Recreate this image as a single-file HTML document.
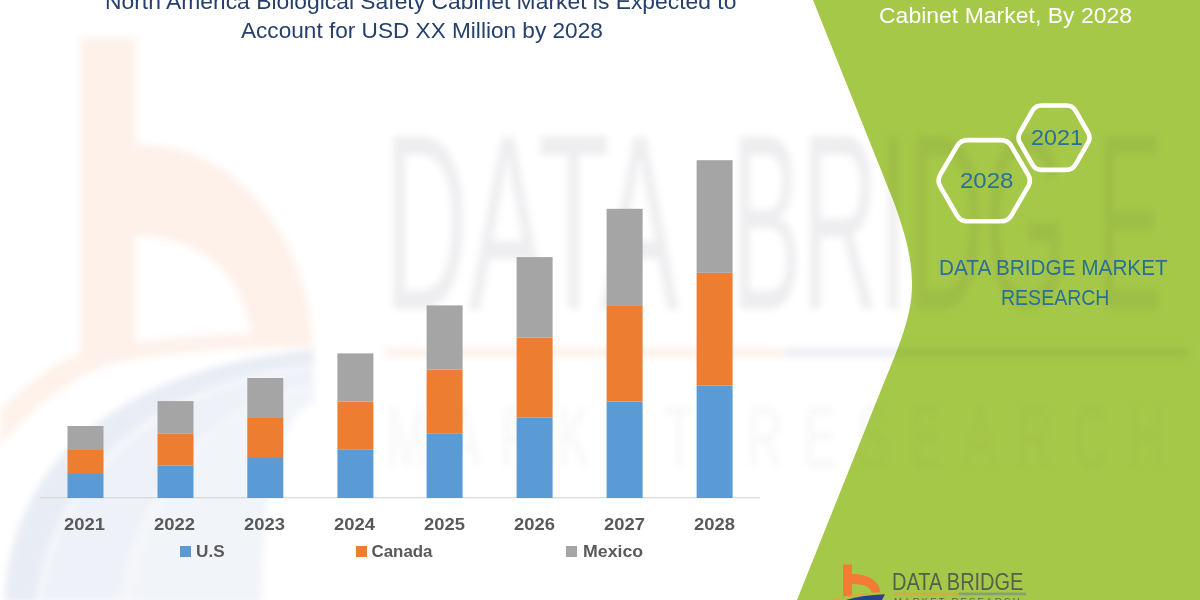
<!DOCTYPE html>
<html>
<head>
<meta charset="utf-8">
<style>
  html, body { margin:0; padding:0; }
  body { width:1200px; height:600px; overflow:hidden; background:#ffffff; position:relative;
         font-family:"Liberation Sans", sans-serif; }
  #stage { position:absolute; left:0; top:0; width:1200px; height:600px; overflow:hidden; background:#fff; }
  svg { position:absolute; left:0; top:0; }
  .t { position:absolute; white-space:nowrap; line-height:1; transform-origin:0 0; }
  .sq { position:absolute; width:11px; height:11px; top:545.8px; }
</style>
</head>
<body>
<div id="stage">

<!-- layer 1: green panel -->
<svg id="green" width="1200" height="600" viewBox="0 0 1200 600">
  <path d="M813 0 L893 200 C905 232 912 258 912 285 C912 320 895 355 877 400 L797 600 L1200 600 L1200 0 Z" fill="#a6c848"/>
</svg>

<!-- layer 2: faint blurred logo watermark (multiplied over white + green) -->
<svg id="wm" width="1200" height="600" viewBox="0 0 1200 600" style="mix-blend-mode:multiply">
  <defs>
    <filter id="b6" x="-10%" y="-10%" width="120%" height="120%"><feGaussianBlur stdDeviation="3.5"/></filter>
    <filter id="b4" x="-10%" y="-10%" width="120%" height="120%"><feGaussianBlur stdDeviation="3.5"/></filter>
    <clipPath id="cg"><path d="M813 0 L893 200 C905 232 912 258 912 285 C912 320 895 355 877 400 L797 600 L1200 600 L1200 0 Z"/></clipPath>
    <clipPath id="cw"><path d="M0 0 L813 0 L893 200 C905 232 912 258 912 285 C912 320 895 355 877 400 L797 600 L0 600 Z"/></clipPath>
    
  </defs>
  <g clip-path="url(#cw)">
  <g filter="url(#b6)">
    <!-- swoosh: blue-grey crescents -->
    <g transform="translate(-8,-8)"><path d="M13 610 C15 480 120 375 322 358 L322 410 C285 425 270 500 270 610 Z" fill="#f4f6fa"/>
    <path d="M13 610 C15 480 120 375 322 358 L322 372 C175 385 62 470 43 610 Z" fill="#e8ecf4"/>
    <path d="M50 610 C68 475 180 392 322 377 L322 392 C240 405 150 470 126 610 Z" fill="#eef2f8"/>
    <path d="M140 610 C160 480 240 412 322 397 L322 410 C285 425 270 500 270 610 Z" fill="#f1f4f9"/></g>
    <!-- orange bridge arc -->
    <path d="M0 410 C30 380 60 358 90 350 C150 336 230 333 312 333 L312 347 C240 348 170 352 120 362 C80 372 40 400 0 445 Z" fill="#fef2eb"/>
    <!-- b -->
    <path d="M80 38 H136 V144 C236 144 306 232 313 342 L252 342 C246 280 208 238 136 236 V356 H80 Z" fill="#fef1ea"/>
  </g>
  <g filter="url(#b4)">
    <text x="0" y="0" transform="translate(384,309) scale(0.5,1)" font-family="Liberation Sans, sans-serif" font-size="250" fill="#eeeef1" textLength="590" lengthAdjust="spacingAndGlyphs">DATA</text>
    <text x="0" y="0" transform="translate(731,309) scale(0.5,1)" font-family="Liberation Sans, sans-serif" font-size="250" fill="#eeeef1" textLength="672" lengthAdjust="spacingAndGlyphs">BRIDG</text>
    <text x="0" y="0" transform="translate(1096,309) scale(0.4,1)" font-family="Liberation Sans, sans-serif" font-size="250" fill="#eeeef1">E</text>
    <rect x="385" y="348" width="401" height="9" fill="#fef1ea"/>
    <rect x="786" y="348" width="404" height="9" fill="#ebeff6"/>
    <g transform="translate(386,467) scale(0.56,1)">
      <text x="0" y="0" font-family="Liberation Sans, sans-serif" font-size="88" fill="#f7f7f8" textLength="1390" lengthAdjust="spacing">MARKET RESEARCH</text>
    </g>
  </g>
</g>
  <g clip-path="url(#cg)" opacity="0.75">
  <g filter="url(#b6)">
    <!-- swoosh: blue-grey crescents -->
    <g transform="translate(-8,-8)"><path d="M13 610 C15 480 120 375 322 358 L322 410 C285 425 270 500 270 610 Z" fill="#f4f6fa"/>
    <path d="M13 610 C15 480 120 375 322 358 L322 372 C175 385 62 470 43 610 Z" fill="#e8ecf4"/>
    <path d="M50 610 C68 475 180 392 322 377 L322 392 C240 405 150 470 126 610 Z" fill="#eef2f8"/>
    <path d="M140 610 C160 480 240 412 322 397 L322 410 C285 425 270 500 270 610 Z" fill="#f1f4f9"/></g>
    <!-- orange bridge arc -->
    <path d="M0 410 C30 380 60 358 90 350 C150 336 230 333 312 333 L312 347 C240 348 170 352 120 362 C80 372 40 400 0 445 Z" fill="#fef2eb"/>
    <!-- b -->
    <path d="M80 38 H136 V144 C236 144 306 232 313 342 L252 342 C246 280 208 238 136 236 V356 H80 Z" fill="#fef1ea"/>
  </g>
  <g filter="url(#b4)">
    <text x="0" y="0" transform="translate(384,309) scale(0.5,1)" font-family="Liberation Sans, sans-serif" font-size="250" fill="#eeeef1" textLength="590" lengthAdjust="spacingAndGlyphs">DATA</text>
    <text x="0" y="0" transform="translate(731,309) scale(0.5,1)" font-family="Liberation Sans, sans-serif" font-size="250" fill="#eeeef1" textLength="672" lengthAdjust="spacingAndGlyphs">BRIDG</text>
    <text x="0" y="0" transform="translate(1096,309) scale(0.4,1)" font-family="Liberation Sans, sans-serif" font-size="250" fill="#eeeef1">E</text>
    <rect x="385" y="348" width="401" height="9" fill="#fef1ea"/>
    <rect x="786" y="348" width="404" height="9" fill="#ebeff6"/>
    <g transform="translate(386,467) scale(0.56,1)">
      <text x="0" y="0" font-family="Liberation Sans, sans-serif" font-size="88" fill="#f7f7f8" textLength="1390" lengthAdjust="spacing">MARKET RESEARCH</text>
    </g>
  </g>
</g>
</svg>

<!-- layer 3: chart -->
<svg id="chart" width="1200" height="600" viewBox="0 0 1200 600">
  <rect x="40" y="497.2" width="720" height="1.1" fill="#d4d4d4"/>
  <g>
    <rect x="67.5" y="474.0" width="36" height="24.0" fill="#5b9bd5"/>
    <rect x="67.5" y="450.0" width="36" height="24.0" fill="#ed7d31"/>
    <rect x="67.5" y="426.0" width="36" height="24.0" fill="#a5a5a5"/>
    <rect x="157.5" y="465.7" width="36" height="32.3" fill="#5b9bd5"/>
    <rect x="157.5" y="433.4" width="36" height="32.3" fill="#ed7d31"/>
    <rect x="157.5" y="401.1" width="36" height="32.3" fill="#a5a5a5"/>
    <rect x="247.3" y="458.0" width="36" height="40.0" fill="#5b9bd5"/>
    <rect x="247.3" y="418.0" width="36" height="40.0" fill="#ed7d31"/>
    <rect x="247.3" y="378.0" width="36" height="40.0" fill="#a5a5a5"/>
    <rect x="337.4" y="449.8" width="36" height="48.2" fill="#5b9bd5"/>
    <rect x="337.4" y="401.6" width="36" height="48.2" fill="#ed7d31"/>
    <rect x="337.4" y="353.4" width="36" height="48.2" fill="#a5a5a5"/>
    <rect x="426.6" y="433.8" width="36" height="64.2" fill="#5b9bd5"/>
    <rect x="426.6" y="369.6" width="36" height="64.2" fill="#ed7d31"/>
    <rect x="426.6" y="305.4" width="36" height="64.2" fill="#a5a5a5"/>
    <rect x="516.6" y="417.7" width="36" height="80.3" fill="#5b9bd5"/>
    <rect x="516.6" y="337.4" width="36" height="80.3" fill="#ed7d31"/>
    <rect x="516.6" y="257.1" width="36" height="80.3" fill="#a5a5a5"/>
    <rect x="606.6" y="401.6" width="36" height="96.4" fill="#5b9bd5"/>
    <rect x="606.6" y="305.2" width="36" height="96.4" fill="#ed7d31"/>
    <rect x="606.6" y="208.8" width="36" height="96.4" fill="#a5a5a5"/>
    <rect x="696.6" y="385.4" width="36" height="112.6" fill="#5b9bd5"/>
    <rect x="696.6" y="272.8" width="36" height="112.6" fill="#ed7d31"/>
    <rect x="696.6" y="160.2" width="36" height="112.6" fill="#a5a5a5"/>
  </g>
</svg>

<div class="t" id="t1" style="left:105.00px;top:-9.27px;font-size:21.23px;color:#26406d;font-weight:normal;transform:scaleX(1.0772)">North America Biological Safety Cabinet Market is Expected to</div>
<div class="t" id="t2" style="left:241.00px;top:20.03px;font-size:21.23px;color:#26406d;font-weight:normal;transform:scaleX(1.0651)">Account for USD XX Million by 2028</div>
<div class="t" id="cab" style="left:878.50px;top:4.60px;font-size:22.21px;color:#ffffff;font-weight:normal;transform:scaleX(1.0355)">Cabinet Market, By 2028</div>
<div class="t" id="h28" style="left:960.00px;top:170.04px;font-size:22.21px;color:#2a7096;font-weight:normal;transform:scaleX(1.0810)">2028</div>
<div class="t" id="h21" style="left:1031.00px;top:126.78px;font-size:22.07px;color:#2a7096;font-weight:normal;transform:scaleX(1.0569)">2021</div>
<div class="t" id="d1" style="left:938.50px;top:257.25px;font-size:22.60px;color:#2a7096;font-weight:normal;transform:scaleX(0.9187)">DATA BRIDGE MARKET</div>
<div class="t" id="d2" style="left:1001.00px;top:287.03px;font-size:22.60px;color:#2a7096;font-weight:normal;transform:scaleX(0.8640)">RESEARCH</div>
<div class="t" id="lus" style="left:195.50px;top:543.83px;font-size:16.90px;color:#595959;font-weight:bold;transform:scaleX(1.0159)">U.S</div>
<div class="t" id="lca" style="left:371.50px;top:543.83px;font-size:16.90px;color:#595959;font-weight:bold;transform:scaleX(1.0000)">Canada</div>
<div class="t" id="lme" style="left:582.50px;top:543.83px;font-size:16.90px;color:#595959;font-weight:bold;transform:scaleX(1.0501)">Mexico</div>
<div class="t" id="lg" style="left:892.00px;top:570.84px;font-size:23.74px;color:#55604a;font-weight:normal;transform:scaleX(0.8422)">DATA BRIDGE</div>
<div class="t" id="y0" style="left:64.00px;top:517.29px;font-size:16.90px;color:#595959;font-weight:bold;transform:scaleX(1.0894)">2021</div>
<div class="t" id="y1" style="left:154.00px;top:517.29px;font-size:16.90px;color:#595959;font-weight:bold;transform:scaleX(1.0894)">2022</div>
<div class="t" id="y2" style="left:244.00px;top:517.29px;font-size:16.90px;color:#595959;font-weight:bold;transform:scaleX(1.0894)">2023</div>
<div class="t" id="y3" style="left:334.00px;top:517.29px;font-size:16.90px;color:#595959;font-weight:bold;transform:scaleX(1.0894)">2024</div>
<div class="t" id="y4" style="left:424.00px;top:517.29px;font-size:16.90px;color:#595959;font-weight:bold;transform:scaleX(1.0894)">2025</div>
<div class="t" id="y5" style="left:514.00px;top:517.29px;font-size:16.90px;color:#595959;font-weight:bold;transform:scaleX(1.0894)">2026</div>
<div class="t" id="y6" style="left:604.00px;top:517.29px;font-size:16.90px;color:#595959;font-weight:bold;transform:scaleX(1.0894)">2027</div>
<div class="t" id="y7" style="left:694.00px;top:517.29px;font-size:16.90px;color:#595959;font-weight:bold;transform:scaleX(1.0894)">2028</div>

<div class="sq" style="left:180px;background:#5b9bd5"></div>
<div class="sq" style="left:356px;background:#ed7d31"></div>
<div class="sq" style="left:566px;background:#a5a5a5"></div>

<svg id="hex" width="1200" height="600" viewBox="0 0 1200 600">
  <path d="M940.3 186.7 Q936.8 180.7 940.3 174.7 L957.0 146.1 Q960.5 140.1 967.5 140.1 L1000.9 140.1 Q1007.9 140.1 1011.4 146.1 L1028.1 174.7 Q1031.6 180.7 1028.1 186.7 L1011.4 215.3 Q1007.9 221.3 1000.9 221.3 L967.5 221.3 Q960.5 221.3 957.0 215.3 Z" fill="none" stroke="#fff" stroke-width="4.6" stroke-linejoin="round"/>
  <path d="M1020.0 142.9 Q1017.0 137.7 1020.0 132.5 L1032.5 110.7 Q1035.5 105.5 1041.5 105.5 L1066.5 105.5 Q1072.5 105.5 1075.5 110.7 L1088.0 132.5 Q1091.0 137.7 1088.0 142.9 L1075.5 164.7 Q1072.5 169.9 1066.5 169.9 L1041.5 169.9 Q1035.5 169.9 1032.5 164.7 Z" fill="none" stroke="#fff" stroke-width="4.6" stroke-linejoin="round"/>
</svg>

<div class="t" id="mr" style="left:894px;top:596.2px;font-size:9.5px;color:#59634c;letter-spacing:2.2px;">MARKET RESEARCH</div>
<!-- small logo, bottom right (cropped by page edge) -->
<svg id="logo" width="1200" height="600" viewBox="0 0 1200 600">
  <path d="M843 564.4 H852 V574 C868 574 879.5 581 880.5 592.5 L871.5 592.5 C870.5 587 865 583.9 852 583.9 V596 H843 Z" fill="#f47b33"/>
  <path d="M832 601 Q853 593.2 884 593.4" fill="none" stroke="#e9a23a" stroke-width="1.3"/>
  <path d="M843 601 Q860 595 885 594.2 L881.5 601 Z" fill="#23438c"/>
  <rect x="894" y="592.6" width="65" height="2.6" fill="#c9ae4c"/>
  <rect x="959" y="592.6" width="67" height="2.6" fill="#869e74"/>
</svg>
</div>
</body>
</html>
